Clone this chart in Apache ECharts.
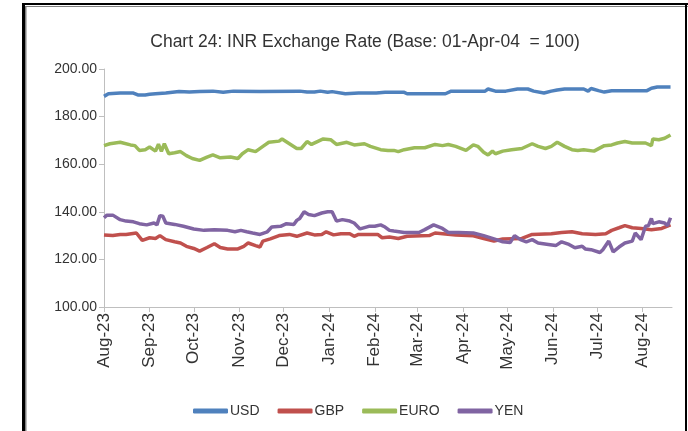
<!DOCTYPE html>
<html>
<head>
<meta charset="utf-8">
<title>INR Exchange Rate</title>
<script src="https://cdn.jsdelivr.net/npm/echarts@6/dist/echarts.min.js"></script>
<style>
  body { margin: 0; background: #fff; }
  #main { width: 688px; height: 431px; }
</style>
</head>
<body>
<div id="main"></div>
<script>
// 月份标签
var monthNames = ['Jan', 'Feb', 'Mar', 'Apr', 'May', 'Jun', 'Jul', 'Aug', 'Sep', 'Oct', 'Nov', 'Dec'];
var seriesNames = ['USD', 'GBP', 'EURO', 'YEN'];

// USD
var usdDates = ['2023-08-01', '2023-08-04', '2023-08-12', '2023-08-21', '2023-08-24', '2023-08-29', '2023-09-01', '2023-09-05',
  '2023-09-12', '2023-09-21', '2023-09-28', '2023-10-05', '2023-10-14', '2023-10-21', '2023-10-28', '2023-11-15',
  '2023-12-12', '2023-12-17', '2023-12-22', '2023-12-26', '2023-12-31', '2024-01-03', '2024-01-12', '2024-01-21',
  '2024-02-02', '2024-02-08', '2024-02-21', '2024-02-23', '2024-03-20', '2024-03-24', '2024-04-16', '2024-04-18',
  '2024-04-23', '2024-04-30', '2024-05-01', '2024-05-08', '2024-05-15', '2024-05-19', '2024-05-26', '2024-05-31',
  '2024-06-04', '2024-06-09', '2024-06-22', '2024-06-25', '2024-06-27', '2024-07-02', '2024-07-06', '2024-07-11',
  '2024-08-04', '2024-08-07', '2024-08-11', '2024-08-20'];
var usdValues = [188.5, 189.6, 189.9, 189.9, 189.1, 189.1, 189.4, 189.6,
  189.9, 190.5, 190.3, 190.5, 190.7, 190.2, 190.7, 190.5,
  190.7, 190.3, 190.3, 190.7, 190.2, 190.5, 189.6, 189.9,
  189.9, 190.2, 190.2, 189.6, 189.6, 190.7, 190.7, 191.6,
  190.7, 190.7, 191.2, 191.6, 191.6, 190.7, 189.9, 190.7,
  191.2, 191.6, 191.6, 190.7, 191.8, 190.9, 190.3, 190.9,
  190.9, 191.9, 192.4, 192.4];

// GBP
var gbpDates = ['2023-08-01', '2023-08-07', '2023-08-12', '2023-08-16', '2023-08-23', '2023-08-27', '2023-09-01', '2023-09-05',
  '2023-09-08', '2023-09-12', '2023-09-18', '2023-09-22', '2023-09-26', '2023-10-01', '2023-10-05', '2023-10-10',
  '2023-10-15', '2023-10-19', '2023-10-24', '2023-10-31', '2023-11-04', '2023-11-07', '2023-11-12', '2023-11-15',
  '2023-11-17', '2023-11-22', '2023-11-28', '2023-12-05', '2023-12-10', '2023-12-17', '2023-12-22', '2023-12-27',
  '2023-12-30', '2024-01-04', '2024-01-09', '2024-01-15', '2024-01-18', '2024-01-21', '2024-01-28', '2024-02-03',
  '2024-02-06', '2024-02-11', '2024-02-17', '2024-02-23', '2024-03-09', '2024-03-13', '2024-03-27', '2024-04-08',
  '2024-04-15', '2024-04-22', '2024-04-28', '2024-05-11', '2024-05-18', '2024-05-31', '2024-06-07', '2024-06-14',
  '2024-06-21', '2024-06-30', '2024-07-07', '2024-07-11', '2024-07-16', '2024-07-20', '2024-07-25', '2024-07-31',
  '2024-08-07', '2024-08-14', '2024-08-20'];
var gbpValues = [130.3, 130.0, 130.5, 130.5, 131.1, 128.0, 129.1, 128.8,
  130.0, 128.3, 127.4, 126.9, 125.5, 124.6, 123.5, 125.0,
  126.6, 125.0, 124.4, 124.4, 125.5, 126.9, 125.8, 125.2,
  127.7, 128.6, 130.0, 130.5, 129.7, 131.1, 130.3, 130.5,
  131.6, 130.3, 130.8, 130.8, 129.7, 130.5, 130.5, 130.5,
  129.1, 129.4, 128.8, 129.7, 130.0, 131.1, 130.3, 129.9,
  128.8, 127.7, 128.6, 128.8, 130.5, 130.8, 131.3, 131.6,
  130.8, 130.5, 130.8, 132.2, 133.3, 134.2, 133.3, 133.0,
  132.5, 133.0, 134.5];

// EURO
var euroDates = ['2023-08-01', '2023-08-05', '2023-08-12', '2023-08-19', '2023-08-22', '2023-08-25', '2023-08-29', '2023-09-01',
  '2023-09-05', '2023-09-07', '2023-09-09', '2023-09-11', '2023-09-14', '2023-09-18', '2023-09-22', '2023-09-26',
  '2023-09-30', '2023-10-05', '2023-10-10', '2023-10-14', '2023-10-19', '2023-10-26', '2023-10-31', '2023-11-03',
  '2023-11-07', '2023-11-12', '2023-11-17', '2023-11-21', '2023-11-28', '2023-11-30', '2023-12-05', '2023-12-10',
  '2023-12-13', '2023-12-17', '2023-12-20', '2023-12-24', '2023-12-28', '2023-12-29', '2024-01-02', '2024-01-06',
  '2024-01-13', '2024-01-18', '2024-01-25', '2024-01-29', '2024-02-05', '2024-02-10', '2024-02-14', '2024-02-17',
  '2024-02-21', '2024-02-28', '2024-03-06', '2024-03-13', '2024-03-18', '2024-03-22', '2024-03-27', '2024-04-03',
  '2024-04-08', '2024-04-11', '2024-04-15', '2024-04-18', '2024-04-21', '2024-04-23', '2024-04-28', '2024-05-04',
  '2024-05-11', '2024-05-18', '2024-05-22', '2024-05-27', '2024-05-31', '2024-06-04', '2024-06-09', '2024-06-14',
  '2024-06-18', '2024-06-22', '2024-06-29', '2024-07-06', '2024-07-11', '2024-07-15', '2024-07-20', '2024-07-25',
  '2024-08-03', '2024-08-07', '2024-08-08', '2024-08-12', '2024-08-16', '2024-08-20'];
var euroValues = [167.8, 168.6, 169.2, 168.1, 167.8, 165.8, 166.1, 167.2,
  165.5, 168.4, 165.4, 168.6, 164.4, 164.8, 165.3, 163.6,
  162.4, 161.6, 163.0, 163.9, 162.7, 163.0, 162.4, 164.4,
  166.1, 165.3, 167.5, 169.2, 169.7, 170.6, 168.6, 166.6,
  166.6, 169.5, 168.3, 169.5, 170.6, 171.4, 170.3, 168.3,
  169.2, 168.1, 168.6, 167.5, 166.1, 165.8, 165.8, 165.3,
  166.1, 166.9, 166.9, 168.3, 167.8, 168.3, 167.5, 165.8,
  168.1, 167.5, 165.0, 163.9, 165.5, 164.4, 165.5, 166.1,
  166.6, 168.6, 167.5, 166.6, 167.5, 169.2, 167.5, 166.1,
  165.8, 166.1, 165.5, 167.8, 168.1, 168.9, 169.5, 168.9,
  168.9, 167.8, 170.6, 170.3, 170.9, 172.3];

// YEN
var yenDates = ['2023-08-01', '2023-08-03', '2023-08-07', '2023-08-12', '2023-08-16', '2023-08-21', '2023-08-25', '2023-08-30',
  '2023-09-04', '2023-09-06', '2023-09-08', '2023-09-10', '2023-09-12', '2023-09-18', '2023-09-24', '2023-10-01',
  '2023-10-08', '2023-10-15', '2023-10-24', '2023-10-29', '2023-11-02', '2023-11-06', '2023-11-10', '2023-11-15',
  '2023-11-20', '2023-11-23', '2023-11-29', '2023-12-03', '2023-12-08', '2023-12-10', '2023-12-12', '2023-12-15',
  '2023-12-18', '2023-12-22', '2023-12-27', '2023-12-31', '2024-01-03', '2024-01-06', '2024-01-10', '2024-01-15',
  '2024-01-18', '2024-01-22', '2024-01-28', '2024-02-01', '2024-02-05', '2024-02-08', '2024-02-11', '2024-02-14',
  '2024-02-21', '2024-03-02', '2024-03-06', '2024-03-12', '2024-03-18', '2024-03-22', '2024-03-29', '2024-04-08',
  '2024-04-15', '2024-04-22', '2024-04-28', '2024-05-03', '2024-05-06', '2024-05-10', '2024-05-14', '2024-05-18',
  '2024-05-22', '2024-05-29', '2024-06-03', '2024-06-07', '2024-06-12', '2024-06-16', '2024-06-21', '2024-06-23',
  '2024-06-27', '2024-07-03', '2024-07-05', '2024-07-09', '2024-07-12', '2024-07-16', '2024-07-20', '2024-07-25',
  '2024-07-27', '2024-07-31', '2024-08-03', '2024-08-05', '2024-08-07', '2024-08-08', '2024-08-12', '2024-08-16',
  '2024-08-18', '2024-08-20'];
var yenValues = [137.5, 138.6, 138.6, 136.7, 136.1, 135.8, 135.0, 134.5,
  135.3, 134.5, 138.4, 138.1, 135.3, 134.7, 133.9, 132.8,
  132.2, 132.5, 132.2, 131.6, 132.2, 131.6, 131.1, 130.5,
  131.6, 133.6, 133.9, 135.0, 134.7, 136.4, 137.2, 140.0,
  138.9, 138.4, 139.5, 140.0, 140.0, 136.1, 136.7, 136.1,
  135.3, 132.8, 133.9, 133.9, 134.5, 133.6, 132.2, 131.9,
  131.3, 131.3, 132.5, 134.5, 133.0, 131.3, 131.3, 131.1,
  130.0, 128.6, 127.4, 127.1, 130.0, 128.3, 127.4, 128.3,
  126.9, 126.3, 125.8, 127.4, 126.3, 124.9, 125.5, 124.4,
  124.1, 122.9, 124.1, 127.7, 123.2, 125.2, 126.9, 127.7,
  131.1, 128.3, 133.9, 134.2, 137.2, 135.0, 135.8, 135.3,
  134.2, 137.5];

// y轴刻度
var yMin = 100, yMax = 200, yStep = 20;

var colors = ['#4f81bd', '#c0504d', '#9bbb59', '#8064a2'];
var fontFamily = '"Liberation Sans", Arial, sans-serif';

function pairs(dates, values) {
  var out = [];
  for (var i = 0; i < dates.length; i++) {
    out.push([dates[i], values[i]]);
  }
  return out;
}

var allDates = [usdDates, gbpDates, euroDates, yenDates];
var allValues = [usdValues, gbpValues, euroValues, yenValues];

var series = [];
for (var s = 0; s < seriesNames.length; s++) {
  series.push({
    name: seriesNames[s],
    type: 'line',
    showSymbol: false,
    symbol: 'none',
    lineStyle: { width: 3.5, color: colors[s] },
    itemStyle: { color: colors[s] },
    data: pairs(allDates[s], allValues[s])
  });
}

var chart = echarts.init(document.getElementById('main'));
chart.setOption({
  animation: false,
  backgroundColor: '#fff',
  title: {
    text: 'Chart 24: INR Exchange Rate (Base: 01-Apr-04  = 100)',
    left: 360,
    top: 28,
    textAlign: 'center',
    textStyle: { fontFamily: fontFamily, fontSize: 17.5, fontWeight: 'normal', color: '#333' }
  },
  legend: {
    data: seriesNames,
    left: 188,
    top: 399,
    icon: 'roundRect',
    itemWidth: 35,
    itemHeight: 5,
    itemGap: 18,
    textStyle: { fontFamily: fontFamily, fontSize: 14, color: '#333', padding: [0, 0, 0, -3] }
  },
  grid: { left: 104, right: 16, top: 69, bottom: 124, containLabel: false },
  xAxis: {
    type: 'time',
    min: '2023-08-01',
    max: '2024-08-21',
    minInterval: 28 * 24 * 3600 * 1000,
    maxInterval: 31 * 24 * 3600 * 1000,
    axisLine: { lineStyle: { color: '#bfbfbf', width: 1 } },
    axisTick: { show: true, length: 5, lineStyle: { color: '#bfbfbf' } },
    splitLine: { show: false },
    axisLabel: {
      rotate: 90,
      margin: 6,
      fontFamily: fontFamily,
      fontSize: 17,
      color: '#333',
      formatter: function (v) {
        var d = new Date(v);
        return monthNames[d.getMonth()] + '-' + String(d.getFullYear()).slice(2);
      }
    }
  },
  yAxis: {
    type: 'value',
    min: yMin,
    max: yMax,
    interval: yStep,
    axisLine: { show: true, lineStyle: { color: '#bfbfbf', width: 1 } },
    axisTick: { show: true, length: 5, lineStyle: { color: '#bfbfbf' } },
    splitLine: { show: false },
    axisLabel: {
      margin: 7,
      fontFamily: fontFamily,
      fontSize: 14,
      color: '#333',
      formatter: function (v) { return v.toFixed(2); }
    }
  },
  // 外框
  graphic: [
    { type: 'rect', shape: { x: 22, y: 3, width: 3, height: 428 }, style: { fill: '#000' }, silent: true },
    { type: 'rect', shape: { x: 22, y: 3, width: 666, height: 2 }, style: { fill: '#000' }, silent: true },
    { type: 'rect', shape: { x: 25, y: 6, width: 1.5, height: 425 }, style: { fill: '#808080' }, silent: true },
    { type: 'rect', shape: { x: 25, y: 6, width: 663, height: 1 }, style: { fill: '#808080' }, silent: true },
    { type: 'rect', shape: { x: 685, y: 3, width: 2, height: 428 }, style: { fill: '#000' }, silent: true }
  ],
  series: series
});
</script>
</body>
</html>
